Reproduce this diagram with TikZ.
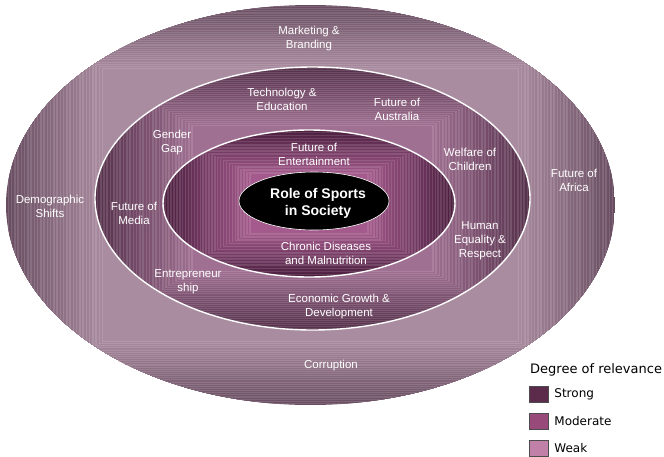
\documentclass[tikz,border=0pt]{standalone}
\usepackage{fontspec}
\setmainfont{Liberation Sans}
\newfontfamily\legendfont{DejaVu Sans}
\usetikzlibrary{positioning}
\definecolor{rimdark}{RGB}{104,76,96}
\definecolor{rimlight}{RGB}{170,140,160}
\definecolor{middark}{RGB}{84,48,74}
\definecolor{midlight}{RGB}{160,112,146}
\definecolor{coredark}{RGB}{74,30,62}
\definecolor{corelight}{RGB}{164,90,140}
\definecolor{mstrong}{RGB}{92,42,74}
\definecolor{mmoderate}{RGB}{152,74,122}
\definecolor{mweak}{RGB}{192,128,168}
\tikzset{lbl/.style = {text=white, align=center, inner sep=0,
                       font=\fontsize{11.5}{14}\selectfont}}
\tikzset{keybox/.style = {draw=black!70, minimum width=19, minimum height=16,
                          inner sep=0}}
\tikzset{keytext/.style = {font=\legendfont\fontsize{12}{14}\selectfont,
                           right=6 of #1, inner sep=0}}
\newcommand{\boxfill}[7]{%
  \begin{scope}
    \clip (#1,#2) ellipse [x radius=#3, y radius=#4];
    \foreach \i in {0,...,60} {
      \pgfmathsetmacro{\f}{1-(1-#7)*\i/60}
      \pgfmathtruncatemacro{\p}{100*\i/60}
      \pgfmathtruncatemacro{\s}{mod(\i,2)*12}
      \colorlet{bandcol}{#6!\p!#5}
      \fill [white!\s!bandcol] ({#1-\f*#3}, {#2-\f*#4}) rectangle ({#1+\f*#3}, {#2+\f*#4});
    }
  \end{scope}}

\begin{document}
\begin{tikzpicture}[x=1pt, y=-1pt]
  \useasboundingbox (0, 0) rectangle (664, 456);

  \boxfill{310.5}{205}{304.5}{200}{rimdark}{rimlight}{0.68}
  \boxfill{312.5}{198.5}{217.5}{131.5}{middark}{midlight}{0.55}
  \draw [white, line width=1.4] (312.5, 198.5) ellipse [x radius=217.5, y radius=131.5];
  \boxfill{309}{203.5}{146}{73.5}{coredark}{corelight}{0.4}
  \draw [white, line width=1.4] (309, 203.5) ellipse [x radius=146, y radius=73.5];

  \fill [black] (314, 201) ellipse [x radius=75, y radius=29];
  \draw [white, line width=0.6] (314, 201) ellipse [x radius=75, y radius=29];
  \node (role) [text=white, align=center, inner sep=0,
                font=\bfseries\fontsize{14}{17}\selectfont] at (318, 203) {Role of Sports\\in Society};

  \node (mkt) [lbl] at (309, 38.5) {Marketing \&\\Branding};
  \node (tech) [lbl] at (282, 99.5) {Technology \&\\Education};
  \node (aus) [lbl] at (397, 109) {Future of\\Australia};
  \node (gender) [lbl] at (172, 143) {Gender\\Gap};
  \node (ent) [lbl] at (314, 154) {Future of\\Entertainment};
  \node (welfare) [lbl] at (470, 159) {Welfare of\\Children};
  \node (africa) [lbl] at (574, 180.5) {Future of\\Africa};
  \node (demo) [lbl] at (50, 206) {Demographic\\Shifts};
  \node (media) [lbl] at (134, 213) {Future of\\Media};
  \node (human) [lbl] at (480, 240.5) {Human\\Equality \&\\Respect};
  \node (chronic) [lbl] at (326, 253) {Chronic Diseases\\and Malnutrition};
  \node (entre) [lbl] at (188, 282) {Entrepreneur\\ship};
  \node (econ) [lbl] at (339, 306.5) {Economic Growth \&\\Development};
  \node (corrupt) [lbl] at (331, 366) {Corruption};

  \node (keytitle) [anchor=west, inner sep=0, font=\legendfont\fontsize{13}{15}\selectfont]
        at (530, 370) {Degree of relevance};
  \node (strong) [keybox, fill=mstrong] at (538.5, 394.5) {};
  \node (moderate) [keybox, fill=mmoderate] at (538.5, 421) {};
  \node (weak) [keybox, fill=mweak] at (538.5, 448) {};
  \node (strongtxt) [keytext=strong] {Strong};
  \node (moderatetxt) [keytext=moderate] {Moderate};
  \node (weaktxt) [keytext=weak] {Weak};
\end{tikzpicture}
\end{document}
